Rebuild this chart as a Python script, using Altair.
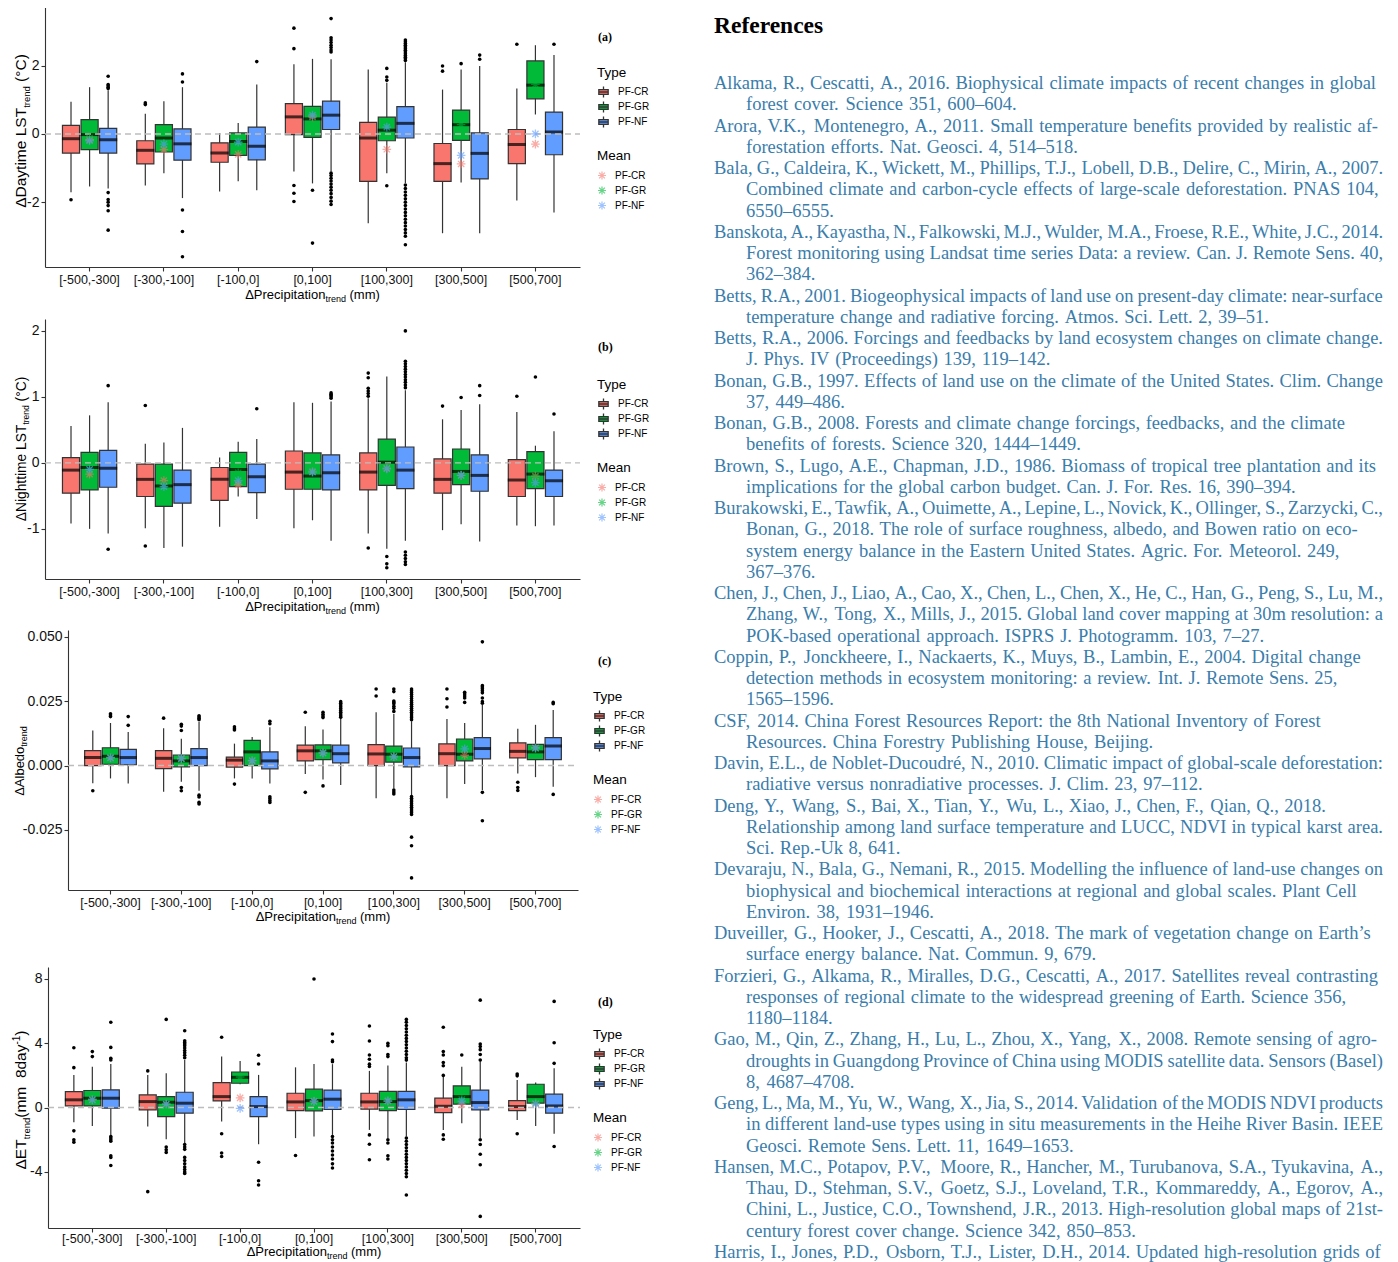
import altair as alt
import pandas as pd

CATEGORIES = ["[-500,-300]", "[-300,-100]", "[-100,0]", "[0,100]", "[100,300]", "[300,500]", "[500,700]"]
TYPES = ["PF-CR", "PF-GR", "PF-NF"]
MEAN_KEYS = ["mean PF-CR", "mean PF-GR", "mean PF-NF"]
TYPE_COLORS = ["#F8766D", "#00BA38", "#619CFF"]

# ---------------- panel (a) daytime LST ----------------
A_LO = [[-1.71, -1.54, -1.60], [-1.51, -1.15, -1.88], [-1.69, -1.39, -1.65], [-1.10, -1.45, -1.10],
        [-2.62, -1.15, -1.44], [-2.91, -1.42, -2.91], [-1.95, 0.57, -2.30]]
A_Q1 = [[-0.56, -0.46, -0.56], [-0.88, -0.53, -0.77], [-0.83, -0.63, -0.76], [-0.02, -0.10, 0.13],
        [-1.39, -0.20, -0.12], [-1.39, -0.19, -1.32], [-0.87, 1.03, -0.61]]
A_MED = [[-0.14, -0.02, -0.17], [-0.48, -0.12, -0.29], [-0.56, -0.22, -0.36], [0.50, 0.44, 0.55],
         [-0.12, 0.11, 0.31], [-0.87, 0.27, -0.57], [-0.31, 1.43, 0.06]]
A_Q3 = [[0.25, 0.42, 0.16], [-0.20, 0.27, 0.15], [-0.26, 0.03, 0.20], [0.89, 0.81, 0.96],
        [0.34, 0.49, 0.80], [-0.28, 0.70, 0.03], [0.13, 2.14, 0.64]]
A_HI = [[0.94, 1.37, 1.28], [0.59, 0.96, 1.37], [0.03, 0.32, 1.45], [2.04, 2.20, 2.19],
        [1.89, 1.50, 2.10], [1.30, 1.89, 1.99], [1.33, 2.60, 2.31]]
A_MEAN = [[-0.17, -0.12, -0.20], [-0.46, -0.28, -0.30], [-0.60, -0.25, -0.24], [0.50, 0.55, 0.55],
          [-0.45, 0.25, 0.20], [-0.88, 0.27, -0.63], [-0.30, 1.45, 0.00]]
A_OUT = [
    [[-1.93], [], [1.69, 1.45, 1.41, 1.37, 1.33, -1.72, -1.92, -2.0, -2.1, -2.25, -2.82]],
    [[0.91, 0.86], [], [1.76, 1.52, -2.23, -2.86, -3.6]],
    [[], [], [2.12]],
    [[3.10, 2.50, -1.51, -1.74, -1.98], [-1.65, -3.2],
     [3.38, 2.82, 2.75, 2.68, 2.6, 2.53, 2.46, 2.4, -1.15, -1.22, -1.3, -1.38, -1.47, -1.56, -1.65, -1.75,
      -1.86, -1.97, -2.07]],
    [[], [1.92, 1.67, 1.57, -1.52],
     [2.75, 2.7, 2.65, 2.6, 2.55, 2.5, 2.45, 2.4, 2.35, 2.3, 2.25, 2.2, 2.15, -1.5, -1.6, -1.7, -1.8, -1.9,
      -2.0, -2.1, -2.2, -2.3, -2.4, -2.5, -2.6, -2.7, -2.8, -2.9, -3.0, -3.25]],
    [[1.99, 1.84], [2.06], [2.31, 2.19]],
    [[2.63], [], [2.63]],
]

# ---------------- panel (b) nighttime LST ----------------
B_LO = [[-0.92, -1.00, -1.07], [-0.99, -1.29, -1.27], [-0.97, -0.51, -0.85], [-0.99, -0.87, -1.18],
        [-1.07, -1.30, -1.18], [-1.02, -0.93, -1.19], [-0.95, -0.96, -0.95]]
B_Q1 = [[-0.46, -0.41, -0.37], [-0.51, -0.66, -0.61], [-0.57, -0.36, -0.45], [-0.40, -0.40, -0.41],
        [-0.41, -0.34, -0.39], [-0.46, -0.33, -0.43], [-0.51, -0.39, -0.51]]
B_MED = [[-0.11, -0.07, -0.08], [-0.25, -0.35, -0.33], [-0.25, -0.10, -0.21], [-0.14, -0.20, -0.15],
         [-0.14, 0.01, -0.11], [-0.25, -0.13, -0.19], [-0.26, -0.17, -0.27]]
B_Q3 = [[0.08, 0.16, 0.19], [-0.02, -0.02, -0.11], [-0.07, 0.16, -0.02], [0.18, 0.15, 0.12],
        [0.15, 0.36, 0.24], [0.06, 0.21, 0.12], [0.05, 0.17, -0.11]]
B_HI = [[0.56, 0.72, 0.92], [0.29, 0.31, 0.53], [0.08, 0.32, 0.36], [0.92, 0.91, 0.93],
        [0.98, 1.31, 1.10], [0.66, 0.80, 0.89], [0.77, 0.26, 0.48]]
B_MEAN = [[-0.17, -0.10, -0.10], [-0.27, -0.33, -0.36], [-0.33, -0.15, -0.27], [-0.13, -0.13, -0.14],
          [-0.08, -0.06, -0.09], [-0.19, -0.18, -0.19], [-0.20, -0.22, -0.30]]
B_OUT = [
    [[], [], [1.17, -1.31]],
    [[0.87, -1.26], [], []],
    [[], [], [0.82]],
    [[], [], [1.06, 1.04, 1.02, 1.0, 0.98]],
    [[1.36, 1.29, 1.13, 1.09, 1.05, 1.01, -1.29], [-1.42, -1.53, -1.59],
     [2.0, 1.54, 1.5, 1.46, 1.42, 1.38, 1.34, 1.3, 1.26, 1.22, 1.18, 1.14, -1.35, -1.4, -1.45, -1.5, -1.54]],
    [[0.86], [0.99], [1.17, 1.02]],
    [[1.01], [1.3], [0.74]],
]

# ---------------- panel (c) albedo ----------------
C_LO = [[-0.0069, -0.0050, -0.0070], [-0.0102, -0.0063, -0.0098], [-0.0050, -0.0050, -0.0070],
        [-0.0033, -0.0054, -0.0076], [-0.0127, -0.0089, -0.0115], [-0.0127, -0.0072, -0.0095],
        [-0.0031, -0.0045, -0.0082]]
C_Q1 = [[0.0000, 0.0005, 0.0003], [-0.0012, -0.0005, 0.0000], [-0.0006, 0.0000, -0.0013],
        [0.0018, 0.0023, 0.0010], [0.0000, 0.0013, -0.0005], [0.0000, 0.0018, 0.0026],
        [0.0030, 0.0023, 0.0023]]
C_MED = [[0.0031, 0.0036, 0.0031], [0.0028, 0.0018, 0.0031], [0.0021, 0.0053, 0.0018],
         [0.0057, 0.0057, 0.0046], [0.0045, 0.0044, 0.0031], [0.0046, 0.0044, 0.0066],
         [0.0055, 0.0053, 0.0076]]
C_Q3 = [[0.0058, 0.0069, 0.0063], [0.0058, 0.0041, 0.0066], [0.0033, 0.0098, 0.0053],
        [0.0079, 0.0080, 0.0079], [0.0081, 0.0075, 0.0068], [0.0084, 0.0103, 0.0108],
        [0.0088, 0.0082, 0.0108]]
C_HI = [[0.0136, 0.0165, 0.0130], [0.0145, 0.0104, 0.0169], [0.0085, 0.0111, 0.0149],
        [0.0152, 0.0140, 0.0181], [0.0207, 0.0200, 0.0172], [0.0181, 0.0165, 0.0235],
        [0.0143, 0.0158, 0.0216]]
C_MEAN = [[0.0031, 0.0033, 0.0030], [0.0026, 0.0027, 0.0028], [0.0020, 0.0025, 0.0018],
          [0.0050, 0.0052, 0.0048], [0.0035, 0.0036, 0.0034], [0.0040, 0.0068, 0.0065],
          [0.0068, 0.0066, 0.0068]]
C_OUT = [
    [[-0.0098], [0.0201, 0.0196, 0.0190], [0.0190, 0.0156]],
    [[0.0184], [0.0160, 0.0153, 0.0136, -0.0085, -0.0098],
     [0.0193, 0.0188, 0.0183, 0.0178, -0.0115, -0.0122, -0.0143, -0.0149]],
    [[0.0150, 0.0143, 0.0138, -0.0072], [], [0.0172, 0.0162, -0.0121, -0.0128, -0.0136, -0.0143]],
    [[0.0207, -0.0104], [0.0207, 0.0199, 0.0192, 0.0186, -0.0079],
     [0.0248, 0.0242, 0.0235, 0.0228, 0.0221, 0.0214, 0.0207, 0.0200, 0.0193, 0.0187]],
    [[0.0297, 0.0270], [0.0297, 0.0287, 0.0250, 0.0245, 0.0240, 0.0230, 0.0222, 0.0210, -0.0095, -0.0103, -0.0110],
     [0.0297, 0.0290, 0.0283, 0.0276, 0.0268, 0.0260, 0.0252, 0.0245, 0.0238, 0.0230, 0.0222, 0.0215, 0.0207,
      0.0200, 0.0192, 0.0185, 0.0178, -0.0120, -0.0127, -0.0134, -0.0141, -0.0148, -0.0155, -0.0162, -0.0169,
      -0.0176, -0.0183, -0.0190, -0.0278, -0.0311, -0.0436]],
    [[0.0297, 0.0259, 0.0227], [0.0284, 0.0278, 0.0270, 0.0262, 0.0245],
     [0.0480, 0.0310, 0.0305, 0.0298, 0.0290, 0.0282, 0.0262, 0.0248, 0.0242, -0.0104, -0.0214]],
    [[-0.0065, -0.0085, -0.0097], [], [0.0245, 0.0240, -0.0112]],
]

# ---------------- panel (d) ET ----------------
D_LO = [[-0.91, -1.14, -1.74], [-1.18, -1.97, -2.21], [-0.87, 1.45, -2.28], [-1.90, -1.80, -1.70],
        [-1.39, -1.90, -1.80], [-1.39, -0.97, -1.90], [-0.77, -1.14, -1.63]]
D_Q1 = [[0.10, 0.10, -0.04], [-0.14, -0.56, -0.35], [0.41, 1.51, -0.56], [-0.19, -0.21, -0.12],
        [-0.10, -0.19, -0.12], [-0.31, 0.21, -0.14], [-0.19, 0.27, -0.35]]
D_MED = [[0.48, 0.58, 0.58], [0.37, 0.33, 0.27], [0.68, 1.88, 0.06], [0.35, 0.43, 0.52],
         [0.35, 0.37, 0.48], [0.08, 0.68, 0.31], [0.06, 0.68, 0.10]]
D_Q3 = [[0.99, 1.06, 1.10], [0.79, 0.68, 0.95], [1.55, 2.21, 0.68], [0.89, 1.14, 1.08],
        [0.89, 1.01, 1.01], [0.58, 1.35, 1.08], [0.43, 1.45, 0.83]]
D_HI = [[2.03, 2.54, 2.71], [2.03, 2.13, 2.96], [3.17, 2.90, 2.03], [2.50, 2.71, 2.70],
        [2.28, 2.61, 2.80], [1.92, 2.54, 2.85], [1.72, 1.55, 2.44]]
D_MEAN = [[0.50, 0.52, 0.48], [0.20, 0.18, 0.22], [0.60, 1.90, -0.05], [0.40, 0.42, 0.38],
          [0.40, 0.38, 0.42], [0.20, 0.50, 0.40], [0.25, 0.30, 0.22]]
D_OUT = [
    [[3.72, 2.48, -1.45, -2.0, -2.15], [3.48, 3.17], [5.3, 3.74, 3.06, 2.96, -1.8, -1.9, -2.0, -2.1, -3.0, -3.1, -3.6]],
    [[2.28, -5.23], [5.48, -2.46, -2.62, -2.79],
     [4.78, 4.15, 4.05, 3.95, 3.85, 3.7, 3.55, 3.4, 3.25, 3.1, -2.3, -2.45, -2.6, -3.1, -3.3, -3.5, -3.7, -3.85,
      -4.0, -4.1]],
    [[4.37, -1.63, -2.83, -3.04], [], [3.25, 2.71, -3.4, -4.55, -4.82]],
    [[-2.98], [7.99], [4.57, 4.1, 2.95, 2.85, -1.8, -2.0, -2.2, -2.45, -2.7, -2.95, -3.2, -3.5, -3.76]],
    [[5.07, 4.14, 3.27, 3.0, 2.7, 2.55, -1.7, -2.28, -3.25], [4.0, 3.85, 3.3, 3.17, -2.0, -2.2, -3.0, -3.2],
     [5.48, 5.3, 5.1, 4.9, 4.7, 4.5, 4.3, 4.1, 3.9, 3.7, 3.5, 3.3, 3.1, 2.95, -1.9, -2.1, -2.3, -2.5, -2.7, -2.9,
      -3.1, -3.3, -3.5, -3.7, -3.9, -4.1, -4.3, -5.44]],
    [[4.99, 3.48, 3.27, 2.8, 2.6, 2.0, -1.7, -1.97], [3.27], [6.68, 3.95, 3.8, 3.6, 3.3, 2.95, -2.0, -2.3, -2.9, -3.56, -6.77]],
    [[2.09, 1.97, -1.63], [], [6.6, 4.03, 2.75, -2.42]],
]

# ---------------- references text ----------------
REF_HEADING = "References"
REF_LINES = [
    "Alkama, R., Cescatti, A., 2016. Biophysical climate impacts of recent changes in global",
    "forest cover. Science 351, 600–604.",
    "Arora, V.K., Montenegro, A., 2011. Small temperature benefits provided by realistic af-",
    "forestation efforts. Nat. Geosci. 4, 514–518.",
    "Bala, G., Caldeira, K., Wickett, M., Phillips, T.J., Lobell, D.B., Delire, C., Mirin, A., 2007.",
    "Combined climate and carbon-cycle effects of large-scale deforestation. PNAS 104,",
    "6550–6555.",
    "Banskota, A., Kayastha, N., Falkowski, M.J., Wulder, M.A., Froese, R.E., White, J.C., 2014.",
    "Forest monitoring using Landsat time series Data: a review. Can. J. Remote Sens. 40,",
    "362–384.",
    "Betts, R.A., 2001. Biogeophysical impacts of land use on present-day climate: near-surface",
    "temperature change and radiative forcing. Atmos. Sci. Lett. 2, 39–51.",
    "Betts, R.A., 2006. Forcings and feedbacks by land ecosystem changes on climate change.",
    "J. Phys. IV (Proceedings) 139, 119–142.",
    "Bonan, G.B., 1997. Effects of land use on the climate of the United States. Clim. Change",
    "37, 449–486.",
    "Bonan, G.B., 2008. Forests and climate change forcings, feedbacks, and the climate",
    "benefits of forests. Science 320, 1444–1449.",
    "Brown, S., Lugo, A.E., Chapman, J.D., 1986. Biomass of tropical tree plantation and its",
    "implications for the global carbon budget. Can. J. For. Res. 16, 390–394.",
    "Burakowski, E., Tawfik, A., Ouimette, A., Lepine, L., Novick, K., Ollinger, S., Zarzycki, C.,",
    "Bonan, G., 2018. The role of surface roughness, albedo, and Bowen ratio on eco-",
    "system energy balance in the Eastern United States. Agric. For. Meteorol. 249,",
    "367–376.",
    "Chen, J., Chen, J., Liao, A., Cao, X., Chen, L., Chen, X., He, C., Han, G., Peng, S., Lu, M.,",
    "Zhang, W., Tong, X., Mills, J., 2015. Global land cover mapping at 30m resolution: a",
    "POK-based operational approach. ISPRS J. Photogramm. 103, 7–27.",
    "Coppin, P., Jonckheere, I., Nackaerts, K., Muys, B., Lambin, E., 2004. Digital change",
    "detection methods in ecosystem monitoring: a review. Int. J. Remote Sens. 25,",
    "1565–1596.",
    "CSF, 2014. China Forest Resources Report: the 8th National Inventory of Forest",
    "Resources. China Forestry Publishing House, Beijing.",
    "Davin, E.L., de Noblet-Ducoudré, N., 2010. Climatic impact of global-scale deforestation:",
    "radiative versus nonradiative processes. J. Clim. 23, 97–112.",
    "Deng, Y., Wang, S., Bai, X., Tian, Y., Wu, L., Xiao, J., Chen, F., Qian, Q., 2018.",
    "Relationship among land surface temperature and LUCC, NDVI in typical karst area.",
    "Sci. Rep.-Uk 8, 641.",
    "Devaraju, N., Bala, G., Nemani, R., 2015. Modelling the influence of land-use changes on",
    "biophysical and biochemical interactions at regional and global scales. Plant Cell",
    "Environ. 38, 1931–1946.",
    "Duveiller, G., Hooker, J., Cescatti, A., 2018. The mark of vegetation change on Earth’s",
    "surface energy balance. Nat. Commun. 9, 679.",
    "Forzieri, G., Alkama, R., Miralles, D.G., Cescatti, A., 2017. Satellites reveal contrasting",
    "responses of regional climate to the widespread greening of Earth. Science 356,",
    "1180–1184.",
    "Gao, M., Qin, Z., Zhang, H., Lu, L., Zhou, X., Yang, X., 2008. Remote sensing of agro-",
    "droughts in Guangdong Province of China using MODIS satellite data. Sensors (Basel)",
    "8, 4687–4708.",
    "Geng, L., Ma, M., Yu, W., Wang, X., Jia, S., 2014. Validation of the MODIS NDVI products",
    "in different land-use types using in situ measurements in the Heihe River Basin. IEEE",
    "Geosci. Remote Sens. Lett. 11, 1649–1653.",
    "Hansen, M.C., Potapov, P.V., Moore, R., Hancher, M., Turubanova, S.A., Tyukavina, A.,",
    "Thau, D., Stehman, S.V., Goetz, S.J., Loveland, T.R., Kommareddy, A., Egorov, A.,",
    "Chini, L., Justice, C.O., Townshend, J.R., 2013. High-resolution global maps of 21st-",
    "century forest cover change. Science 342, 850–853.",
    "Harris, I., Jones, P.D., Osborn, T.J., Lister, D.H., 2014. Updated high-resolution grids of",
]
REF_ENTRY_STARTS = [0, 2, 4, 7, 10, 12, 14, 16, 18, 20, 24, 27, 30, 32, 34, 37, 40, 42, 45, 48, 51, 55]

# ---------------- styling / layout constants ----------------
FONT = "Liberation Sans"
SERIF = "Liberation Serif"
AXIS_GREY = "#333333"
REF_COLOR = "#3a7dab"
AST = "M0,-1L0,1M-1,0L1,0M-0.72,-0.72L0.72,0.72M-0.72,0.72L0.72,-0.72"
BOXKEY = "M-0.85,-0.42L0.85,-0.42L0.85,0.42L-0.85,0.42Z M-0.85,0L0.85,0 M0,-0.42L0,-1 M0,0.42L0,1"
AW = {" ": .278, "\u00a0": .278, "(": .333, ")": .333, "-": .333, ".": .278, "°": .4, "Δ": .668,
      "C": .722, "D": .722, "E": .667, "L": .556, "M": .833, "N": .722, "P": .667, "S": .667, "T": .611,
      "A": .667, "a": .556, "b": .556, "c": .5, "d": .556, "e": .556, "g": .556, "h": .556, "i": .222,
      "l": .222, "m": .833, "n": .556, "o": .556, "p": .556, "r": .333, "t": .278, "y": .5, "1": .556, "8": .556}
# Times / Liberation Serif advance widths (per 1000 em) used to lay words out along a line
SW = dict(zip("ABCDEFGHIJKLMNOPQRSTUVWXYZ",
              [722, 667, 667, 722, 611, 556, 722, 722, 333, 389, 722, 611, 889, 722, 722, 556, 722, 667, 556,
               611, 722, 722, 944, 722, 722, 611]))
SW.update(zip("abcdefghijklmnopqrstuvwxyz",
              [444, 500, 444, 500, 444, 333, 500, 500, 278, 278, 500, 278, 778, 500, 500, 500, 500, 333, 389,
               278, 500, 500, 722, 500, 500, 444]))
SW.update({c: 500 for c in "0123456789"})
SW.update({" ": 250, ",": 250, ".": 250, ":": 278, ";": 278, "-": 333, "–": 500, "(": 333, ")": 333,
           "’": 333, "é": 444, "'": 180})
ONE = pd.DataFrame({"k": [0]})


def tw(s, fs):
    return sum(AW.get(ch, 0.556) for ch in s) * fs


def sw(s, fs):
    return sum(SW.get(ch, 500) for ch in s) * fs / 1000.0


def title_marks(pieces, horizontal, center, base):
    total = sum(tw(t, fs) + g * fs for t, fs, sh, g in pieces)
    pos = center - total / 2 if horizontal else center + total / 2
    marks = []
    for t, fs, sh, g in pieces:
        if horizontal:
            pos += g * fs
            marks.append(alt.Chart(ONE).mark_text(text=t, align="left", baseline="alphabetic", font=FONT,
                                                  fontSize=fs, color="black")
                         .encode(x=alt.value(pos), y=alt.value(base + sh)))
            pos += tw(t, fs)
        else:
            pos -= g * fs
            marks.append(alt.Chart(ONE).mark_text(text=t, align="left", baseline="alphabetic", font=FONT,
                                                  fontSize=fs, color="black", angle=270)
                         .encode(x=alt.value(base + sh), y=alt.value(pos)))
            pos -= tw(t, fs)
    return marks


X_TITLE = [("ΔPrecipitation", 13, 0, 0), ("trend", 9, 2.5, 0), ("(mm)", 13, 0, 0.278)]


def frames(lo, q1, med, q3, hi, mean, out):
    b, m, o = [], [], []
    for i, c in enumerate(CATEGORIES):
        for j, t in enumerate(TYPES):
            b.append(dict(cat=c, type=t, lo=lo[i][j], q1=q1[i][j], med=med[i][j], q3=q3[i][j], hi=hi[i][j]))
            m.append(dict(cat=c, mtype=MEAN_KEYS[j], mean=mean[i][j]))
            for v in out[i][j]:
                o.append(dict(cat=c, type=t, v=v))
    return pd.DataFrame(b), pd.DataFrame(m), pd.DataFrame(o)


def legend(title, lx, ly, sym, size, rowpad, tpad, extra):
    return alt.Legend(title=title, orient="none", legendX=lx, legendY=ly, symbolType=sym, symbolSize=size,
                      rowPadding=rowpad, titlePadding=tpad, titleFontSize=13.5, titleFontWeight="normal",
                      titleColor="black", titleFont=FONT, labelFont=FONT, labelFontSize=10,
                      labelColor="black", labelOffset=8, **extra)


def panel(data, ydom, yvals, yfmt, W, H, off, ytitle, ybase, ycenter, xbase, lx, ly1, ly2, tag, tagy, xlabpad=2):
    bdf, mdf, odf = frames(*data)
    bw = (W - off) / 7.2 * 0.75 / 3 * 0.92
    X = alt.X("cat:N", sort=CATEGORIES,
              scale=alt.Scale(domain=CATEGORIES, range=[off, W], paddingInner=0.25, paddingOuter=0.225),
              axis=alt.Axis(title=None, labelAngle=0, labelFontSize=12.5, labelPadding=xlabpad))
    XO = alt.XOffset("type:N", sort=TYPES, scale=alt.Scale(domain=TYPES, paddingInner=0.08, paddingOuter=0.04))
    ys = alt.Scale(domain=ydom, nice=False, zero=False)
    yax = alt.Axis(title=None, values=yvals, format=yfmt, labelFontSize=14, labelPadding=2, offset=-off,
                   labelExpr="replace(datum.label, '\u2212', '-')")
    base = alt.Chart(bdf)
    whisk = base.mark_rule(color=AXIS_GREY, strokeWidth=1.2).encode(
        x=X, xOffset=XO, y=alt.Y("lo:Q", scale=ys, axis=yax), y2="hi:Q")
    boxes = base.mark_bar(stroke=AXIS_GREY, strokeWidth=1.2).encode(
        x=X, xOffset=XO, y=alt.Y("q1:Q", scale=ys, axis=yax), y2="q3:Q",
        fill=alt.Fill("type:N", scale=alt.Scale(domain=TYPES, range=TYPE_COLORS),
                      legend=legend("Type", lx, ly1, BOXKEY, 121, -2, 6,
                                    dict(symbolStrokeColor=AXIS_GREY, symbolStrokeWidth=1.3))))
    meds = base.mark_tick(color="black", thickness=3, size=bw + 1).encode(
        x=X, xOffset=XO, y=alt.Y("med:Q", scale=ys, axis=yax))
    outs = alt.Chart(odf).mark_circle(color="black", size=13, opacity=1).encode(
        x=X, xOffset=XO, y=alt.Y("v:Q", scale=ys, axis=yax))
    zero = alt.Chart(pd.DataFrame({"z": [0.0]})).mark_rule(
        color="#bdbdbd", strokeDash=[6, 4], strokeWidth=1.4).encode(
        y=alt.Y("z:Q", scale=ys, axis=yax), x=alt.value(off), x2=alt.value(W))
    means = alt.Chart(mdf).mark_point(shape=AST, filled=False, size=75, strokeWidth=1.3, opacity=0.6).encode(
        x=X, y=alt.Y("mean:Q", scale=ys, axis=yax),
        stroke=alt.Stroke("mtype:N", scale=alt.Scale(domain=MEAN_KEYS, range=TYPE_COLORS),
                          legend=legend("Mean", lx, ly2, AST, 64, 1, 8,
                                        dict(symbolStrokeWidth=1.2, symbolOpacity=0.6,
                                             labelExpr="replace(datum.label, 'mean ', '')"))))
    texts = title_marks(ytitle, False, ycenter, off + ybase) + \
        title_marks(X_TITLE, True, off + (W - off) / 2, H + xbase)
    tagm = alt.Chart(ONE).mark_text(text=tag, align="left", baseline="middle", font=SERIF,
                                    fontWeight="bold", fontSize=12, color="black").encode(
        x=alt.value(553), y=alt.value(tagy))
    return alt.layer(whisk, boxes, meds, outs, zero, means, *texts, tagm).properties(width=W, height=H)


def spacer(h):
    return alt.Chart(ONE).mark_point(opacity=0).encode(
        x=alt.X("k:Q", axis=None), y=alt.Y("k:Q", axis=None)).properties(width=1, height=h)


pa = panel((A_LO, A_Q1, A_MED, A_Q3, A_HI, A_MEAN, A_OUT), [-3.9, 3.72], [-2, 0, 2], "d", 535, 260, 0,
           [("ΔDaytime LST", 15.5, 0, 0), ("trend", 9.5, 3.5, 0), ("(°C)", 15.5, 0, 0.278)],
           -19, 124, 32, 552, 59, 142, "(a)", 30)
pb = panel((B_LO, B_Q1, B_MED, B_Q3, B_HI, B_MEAN, B_OUT), [-1.76, 2.18], [-1, 0, 1, 2], "d", 535, 260, 0,
           [("ΔNighttime LST", 13.8, 0, 0), ("trend", 8.5, 3, 0), ("(°C)", 13.8, 0, 0.278)],
           -19, 130, 32, 552, 59, 142, "(b)", 28)
pc = panel((C_LO, C_Q1, C_MED, C_Q3, C_HI, C_MEAN, C_OUT), [-0.0483, 0.0526], [-0.025, 0, 0.025, 0.05], ".3f",
           533, 260, 23, [("ΔAlbedo", 13, 0, 0), ("trend", 9, 3, 0)],
           -44, 131, 31, 548, 60, 143, "(c)", 31)
pdd = panel((D_LO, D_Q1, D_MED, D_Q3, D_HI, D_MEAN, D_OUT), [-7.49, 8.74], [-4, 0, 4, 8], "d", 535, 261, 3,
            [("ΔET", 15.5, 0, 0), ("trend", 9.5, 3.5, 0), ("(mm\u00a0\u00a08day", 15.5, 0, 0),
             ("-1", 10, -6, 0), (")", 15.5, 0, 0)],
            -22, 133, 28, 548, 61, 144, "(d)", 35, xlabpad=0)

RES = dict(x="independent", y="independent", xOffset="independent", fill="independent", stroke="independent")

col = alt.vconcat(pa, spacer(32), pb, spacer(31), pc, spacer(57), pdd, spacing=10, bounds="flush") \
    .resolve_scale(**RES).resolve_legend(fill="independent", stroke="independent")

# references column: each line is set word by word, the word gaps stretched so that a line
# spans about the width it has in the page (never wider than the column)
RW, RH, LINE_PX, FIRST_PX, INDENT_PX, REF_FS = 669, 1250, 21.25, 76, 32, 18.5
FIRST_LINE_WIDTH = 662
d0 = -FIRST_PX / LINE_PX
d1 = d0 + RH / LINE_PX
space_w = sw(" ", REF_FS)


def natural(line):
    ws = line.split(" ")
    return sum(sw(w, REF_FS) for w in ws) + space_w * (len(ws) - 1)


stretch = FIRST_LINE_WIDTH / natural(REF_LINES[0])
rows = []
for i, line in enumerate(REF_LINES):
    indent = 0 if i in REF_ENTRY_STARTS else INDENT_PX
    words = line.split(" ")
    nat = natural(line)
    target = min(nat * stretch, RW - indent)
    gap = space_w + (target - nat) / (len(words) - 1) if len(words) > 1 else space_w
    xpos = indent
    for w in words:
        rows.append(dict(line=i, text=w, px=xpos))
        xpos += sw(w, REF_FS) + gap
ref_df = pd.DataFrame(rows)
head_df = pd.DataFrame({"line": [d0 + 18.5 / LINE_PX], "text": [REF_HEADING], "px": [0.0]})
RX = alt.X("px:Q", scale=alt.Scale(domain=[0, RW], range=[0, RW], nice=False, zero=False), axis=None)
RY = alt.Y("line:Q", scale=alt.Scale(domain=[d0, d1], range=[0, RH], nice=False, zero=False), axis=None)
ref_text = alt.Chart(ref_df).mark_text(align="left", baseline="middle", font=SERIF, fontSize=REF_FS,
                                       color=REF_COLOR).encode(x=RX, y=RY, text="text:N")
ref_head = alt.Chart(head_df).mark_text(align="left", baseline="middle", font=SERIF, fontSize=23.5,
                                        fontWeight="bold", color="black").encode(x=RX, y=RY, text="text:N")
refs = alt.layer(ref_text, ref_head).properties(width=RW, height=RH)

chart = alt.hconcat(col, refs, spacing=64, bounds="full") \
    .resolve_scale(**RES).resolve_legend(fill="independent", stroke="independent") \
    .properties(padding={"left": 4, "top": -1, "right": 1, "bottom": 5}, background="white") \
    .configure_view(stroke=None) \
    .configure_axis(domainColor=AXIS_GREY, domainWidth=1.1, tickColor=AXIS_GREY, tickWidth=1.1, tickSize=4,
                    labelColor="#111111", labelFont=FONT, grid=False)

chart.save("out.html", embed_options={"renderer": "svg", "actions": False})
